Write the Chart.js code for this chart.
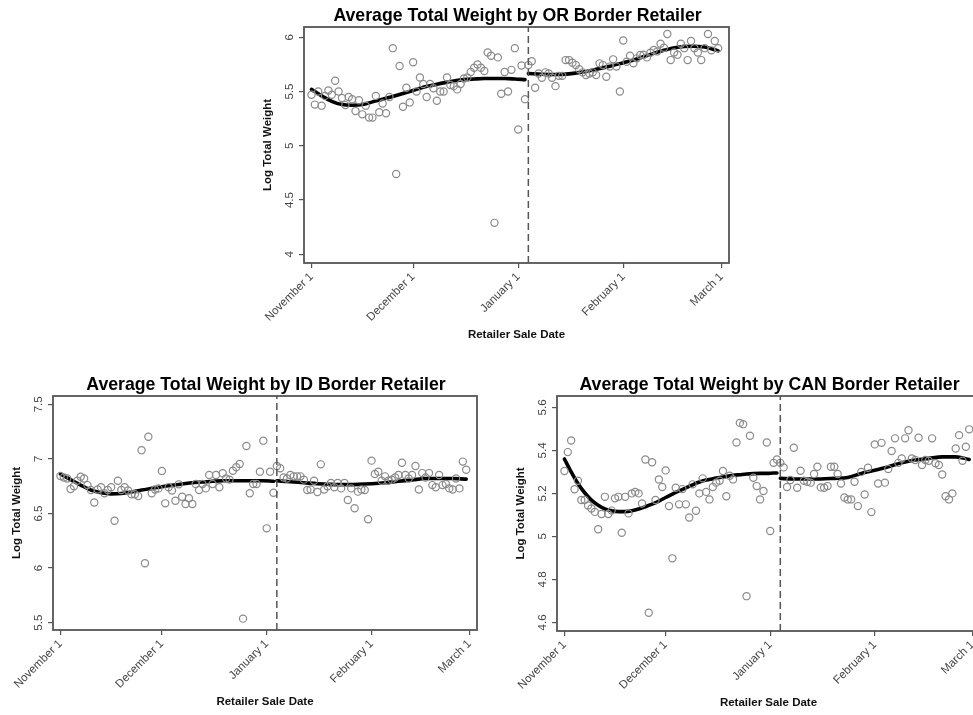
<!DOCTYPE html>
<html>
<head>
<meta charset="utf-8">
<script src="https://cdn.jsdelivr.net/npm/chart.js@4.4.1/dist/chart.umd.min.js"></script>
<style>
  html, body { margin: 0; padding: 0; background: #fff; overflow: hidden; }
  body { width: 973px; height: 715px; position: relative; }
  canvas { position: absolute; }
</style>
</head>
<body>
<canvas id="chart-or"></canvas>
<canvas id="chart-id"></canvas>
<canvas id="chart-can"></canvas>
<script>
// days counted from November 1 (leap year, so March 1 = day 121)
const dayTicks = [0, 30, 61, 92, 121];
const dayTickLabels = ['November 1', 'December 1', 'January 1', 'February 1', 'March 1'];
const breakDay = 64;

// OR border retailer, one value per day
const orWeight = [
  5.47, 5.38, 5.50, 5.37, 5.46, 5.51, 5.47, 5.60, 5.50, 5.44,
  5.375, 5.45, 5.43, 5.32, 5.42, 5.29, 5.37, 5.26, 5.26, 5.46,
  5.31, 5.39, 5.30, 5.45, 5.90, 4.74, 5.735, 5.36, 5.535, 5.40,
  5.77, 5.50, 5.63, 5.57, 5.45, 5.57, 5.53, 5.415, 5.50, 5.50,
  5.63, 5.56, 5.55, 5.52, 5.57, 5.62, 5.63, 5.68, 5.72, 5.75,
  5.72, 5.69, 5.86, 5.83, 4.29, 5.815, 5.48, 5.68, 5.50, 5.70,
  5.90, 5.15, 5.74, 5.43, 5.744, 5.78, 5.535, 5.667, 5.627, 5.677,
  5.667, 5.627, 5.55, 5.645, 5.645, 5.79, 5.79, 5.766, 5.744, 5.705,
  5.677, 5.652, 5.667, 5.677, 5.652, 5.76, 5.744, 5.636, 5.73, 5.797,
  5.73, 5.50, 5.97, 5.775, 5.83, 5.76, 5.806, 5.837, 5.84, 5.815,
  5.858, 5.883, 5.87, 5.94, 5.904, 6.03, 5.79, 5.86, 5.84, 5.94,
  5.90, 5.79, 5.966, 5.90, 5.86, 5.79, 5.90, 6.03, 5.88, 5.966,
  5.90
];
const orFitDaysA = [0, 3, 6, 9, 12, 15, 18, 21, 24, 27, 30, 33, 36, 39, 42, 45, 48, 51, 54, 57, 60, 63];
const orFitA = [5.52, 5.46, 5.41, 5.38, 5.374, 5.38, 5.405, 5.43, 5.455, 5.483, 5.51, 5.54, 5.56, 5.58, 5.597, 5.61, 5.616, 5.62, 5.62, 5.62, 5.616, 5.61];
const orFitDaysB = [64, 68, 72, 76, 80, 84, 88, 92, 96, 100, 104, 108, 112, 116, 120];
const orFitB = [5.667, 5.66, 5.657, 5.663, 5.68, 5.705, 5.733, 5.766, 5.80, 5.843, 5.88, 5.908, 5.917, 5.91, 5.875];
const orYTicks = [4, 4.5, 5, 5.5, 6];
const orYTickLabels = ['4', '4.5', '5', '5.5', '6'];

// ID border retailer
const idWeight = [
  6.843, 6.83, 6.82, 6.724, 6.75, 6.80, 6.837, 6.82, 6.76, 6.715,
  6.60, 6.72, 6.74, 6.685, 6.715, 6.74, 6.434, 6.80, 6.715, 6.74,
  6.71, 6.676, 6.676, 6.66, 7.08, 6.044, 7.203, 6.685, 6.72, 6.73,
  6.89, 6.593, 6.74, 6.71, 6.617, 6.767, 6.654, 6.587, 6.64, 6.587,
  6.77, 6.715, 6.77, 6.73, 6.853, 6.77, 6.853, 6.74, 6.868, 6.82,
  6.81, 6.892, 6.923, 6.953, 5.537, 7.118, 6.685, 6.77, 6.77, 6.883,
  7.167, 6.364, 6.883, 6.69, 6.935, 6.914, 6.83, 6.82, 6.853, 6.84,
  6.84, 6.84, 6.81, 6.715, 6.72, 6.80, 6.697, 6.95, 6.72, 6.75,
  6.78, 6.74, 6.78, 6.73, 6.78, 6.624, 6.73, 6.548, 6.70, 6.72,
  6.715, 6.447, 6.984, 6.862, 6.883, 6.80, 6.84, 6.80, 6.81, 6.83,
  6.853, 6.965, 6.853, 6.82, 6.853, 6.935, 6.72, 6.87, 6.83, 6.87,
  6.76, 6.74, 6.853, 6.76, 6.77, 6.73, 6.72, 6.82, 6.73, 6.975,
  6.90
];
const idFitDaysA = [0, 3, 6, 9, 12, 15, 18, 21, 24, 27, 30, 33, 36, 39, 42, 45, 48, 51, 54, 57, 60, 63];
const idFitA = [6.862, 6.81, 6.76, 6.715, 6.69, 6.68, 6.683, 6.697, 6.715, 6.73, 6.745, 6.758, 6.77, 6.782, 6.788, 6.795, 6.80, 6.80, 6.80, 6.80, 6.80, 6.795];
const idFitDaysB = [64, 68, 72, 76, 80, 84, 88, 92, 96, 100, 104, 108, 112, 116, 120];
const idFitB = [6.80, 6.79, 6.782, 6.773, 6.767, 6.764, 6.767, 6.773, 6.782, 6.795, 6.807, 6.82, 6.82, 6.82, 6.815];
const idYTicks = [5.5, 6, 6.5, 7, 7.5];
const idYTickLabels = ['5.5', '6', '6.5', '7', '7.5'];

// CAN border retailer
const canWeight = [
  5.304, 5.392, 5.446, 5.219, 5.259, 5.169, 5.169, 5.144, 5.13, 5.114,
  5.033, 5.104, 5.184, 5.104, 5.12, 5.177, 5.184, 5.017, 5.184, 5.107,
  5.20, 5.207, 5.20, 5.153, 5.358, 4.645, 5.345, 5.169, 5.265, 5.23,
  5.307, 5.141, 4.898, 5.226, 5.149, 5.22, 5.149, 5.088, 5.242, 5.119,
  5.20, 5.27, 5.207, 5.172, 5.23, 5.25, 5.259, 5.304, 5.187, 5.282,
  5.265, 5.437, 5.528, 5.522, 4.722, 5.468, 5.273, 5.234, 5.172, 5.211,
  5.437, 5.025, 5.342, 5.358, 5.342, 5.321, 5.23, 5.262, 5.412, 5.226,
  5.305, 5.259, 5.254, 5.25, 5.29, 5.324, 5.228, 5.226, 5.234, 5.324,
  5.324, 5.29, 5.246, 5.181, 5.172, 5.172, 5.254, 5.141, 5.30, 5.195,
  5.319, 5.113, 5.428, 5.246, 5.435, 5.25, 5.313, 5.397, 5.456, 5.342,
  5.362, 5.456, 5.494, 5.362, 5.355, 5.459, 5.332, 5.355, 5.352, 5.456,
  5.34, 5.332, 5.288, 5.187, 5.172, 5.20, 5.409, 5.471, 5.352, 5.417,
  5.498
];
const canFitDaysA = [0, 2, 4, 6, 8, 10, 12, 14, 16, 18, 20, 22, 24, 26, 28, 30, 32, 34, 36, 38, 40, 42, 44, 46, 48, 50, 52, 54, 56, 58, 60, 62, 63];
const canFitA = [5.36, 5.30, 5.246, 5.203, 5.169, 5.145, 5.128, 5.119, 5.115, 5.115, 5.119, 5.127, 5.138, 5.15, 5.164, 5.181, 5.197, 5.212, 5.226, 5.24, 5.253, 5.262, 5.268, 5.274, 5.279, 5.284, 5.287, 5.29, 5.292, 5.293, 5.293, 5.295, 5.295];
const canFitDaysB = [64, 68, 72, 76, 80, 84, 88, 92, 96, 100, 104, 108, 112, 116, 120];
const canFitB = [5.27, 5.267, 5.267, 5.267, 5.27, 5.274, 5.293, 5.308, 5.324, 5.342, 5.355, 5.363, 5.37, 5.37, 5.358];
const canYTicks = [4.6, 4.8, 5, 5.2, 5.4, 5.6];
const canYTickLabels = ['4.6', '4.8', '5', '5.2', '5.4', '5.6'];

const FONT = '"Liberation Sans", Arial, Helvetica, sans-serif';
const M = { left: 70, top: 30, right: 6, bottom: 85 };

const rFrame = {
  id: 'rFrame',
  afterDatasetsDraw(chart) {
    const { ctx, chartArea: a, scales: { x } } = chart;
    ctx.save();
    const bx = x.getPixelForValue(breakDay);
    ctx.strokeStyle = '#555';
    ctx.lineWidth = 1.5;
    ctx.setLineDash([7, 4]);
    ctx.beginPath();
    ctx.moveTo(bx, a.bottom);
    ctx.lineTo(bx, a.top);
    ctx.stroke();
    ctx.setLineDash([]);
    ctx.strokeStyle = '#555';
    ctx.lineWidth = 1.8;
    ctx.strokeRect(a.left, a.top, a.right - a.left, a.bottom - a.top);
    ctx.restore();
  },
  afterDraw(chart, args, opts) {
    const { ctx, chartArea: a, scales: { y } } = chart;
    const cx = (a.left + a.right) / 2;
    ctx.save();
    ctx.fillStyle = '#000';
    ctx.textAlign = 'center';
    ctx.font = `bold 17.7px ${FONT}`;
    ctx.textBaseline = 'alphabetic';
    ctx.fillText(opts.title, cx + 1, a.top - 6);

    ctx.font = `bold 11.5px ${FONT}`;
    ctx.fillStyle = '#111';
    ctx.textBaseline = 'middle';
    ctx.fillText('Retailer Sale Date', cx, a.bottom + 72);
    ctx.save();
    ctx.translate(a.left - 36.5, (a.top + a.bottom) / 2);
    ctx.rotate(-Math.PI / 2);
    ctx.fillText('Log Total Weight', 0, 0);
    ctx.restore();

    ctx.font = `11.5px ${FONT}`;
    ctx.fillStyle = '#444';
    y.ticks.forEach((t, i) => {
      ctx.save();
      ctx.translate(a.left - 14.5, y.getPixelForValue(t.value));
      ctx.rotate(-Math.PI / 2);
      ctx.fillText(opts.yLabels[i], 0, 0);
      ctx.restore();
    });
    ctx.restore();
  }
};

function buildPanel(canvasId, box, p) {
  const canvas = document.getElementById(canvasId);
  const w = box.r - box.l + M.left + M.right;
  const h = box.b - box.t + M.top + M.bottom;
  canvas.width = w;
  canvas.height = h;
  canvas.style.width = w + 'px';
  canvas.style.height = h + 'px';
  canvas.style.left = (box.l - M.left) + 'px';
  canvas.style.top = (box.t - M.top) + 'px';

  const fitLine = (days, vals) => ({
    type: 'line',
    data: days.map((d, i) => ({ x: d, y: vals[i] })),
    borderColor: '#000',
    borderWidth: 3.6,
    borderCapStyle: 'round',
    pointRadius: 0,
    cubicInterpolationMode: 'monotone',
    fill: false
  });

  return new Chart(canvas, {
    type: 'scatter',
    data: {
      datasets: [
        {
          data: p.weights.map((v, i) => ({ x: i, y: v })),
          pointStyle: 'circle',
          pointRadius: 3.6,
          borderWidth: 1.2,
          borderColor: '#8a8a8a',
          backgroundColor: 'rgba(0,0,0,0)'
        },
        fitLine(p.fitDaysA, p.fitA),
        fitLine(p.fitDaysB, p.fitB)
      ]
    },
    options: {
      responsive: false,
      animation: false,
      layout: { padding: { left: 0, top: M.top, right: M.right, bottom: 0 } },
      plugins: {
        legend: { display: false },
        tooltip: { enabled: false },
        rFrame: { title: p.title, yLabels: p.yLabels }
      },
      scales: {
        x: {
          type: 'linear',
          min: -2.2,
          max: 123.2,
          afterBuildTicks: s => { s.ticks = dayTicks.map(v => ({ value: v })); },
          afterFit: s => { s.height = M.bottom; },
          grid: { drawOnChartArea: false, drawTicks: true, tickLength: 5, color: '#555', lineWidth: 1.2 },
          border: { display: false },
          ticks: {
            autoSkip: false,
            minRotation: 45,
            maxRotation: 45,
            padding: 2,
            color: '#444',
            font: { family: FONT, size: 11.5 },
            callback: v => dayTickLabels[dayTicks.indexOf(v)]
          }
        },
        y: {
          type: 'linear',
          min: p.yMin,
          max: p.yMax,
          afterBuildTicks: s => { s.ticks = p.yTicks.map(v => ({ value: v })); },
          afterFit: s => { s.width = M.left; },
          grid: { drawOnChartArea: false, drawTicks: true, tickLength: 5, color: '#555', lineWidth: 1.2 },
          border: { display: false },
          ticks: { display: false }
        }
      }
    },
    plugins: [rFrame]
  });
}

buildPanel('chart-or', { l: 304, t: 27, r: 729, b: 263 }, {
  title: 'Average Total Weight by OR Border Retailer',
  weights: orWeight, fitDaysA: orFitDaysA, fitA: orFitA, fitDaysB: orFitDaysB, fitB: orFitB,
  yMin: 3.92, yMax: 6.095, yTicks: orYTicks, yLabels: orYTickLabels
});

buildPanel('chart-id', { l: 53, t: 396, r: 477, b: 630 }, {
  title: 'Average Total Weight by ID Border Retailer',
  weights: idWeight, fitDaysA: idFitDaysA, fitA: idFitA, fitDaysB: idFitDaysB, fitB: idFitB,
  yMin: 5.433, yMax: 7.576, yTicks: idYTicks, yLabels: idYTickLabels
});

buildPanel('chart-can', { l: 557, t: 396, r: 980, b: 631 }, {
  title: 'Average Total Weight by CAN Border Retailer',
  weights: canWeight, fitDaysA: canFitDaysA, fitA: canFitA, fitDaysB: canFitDaysB, fitB: canFitB,
  yMin: 4.56, yMax: 5.653, yTicks: canYTicks, yLabels: canYTickLabels
});
</script>
</body>
</html>
